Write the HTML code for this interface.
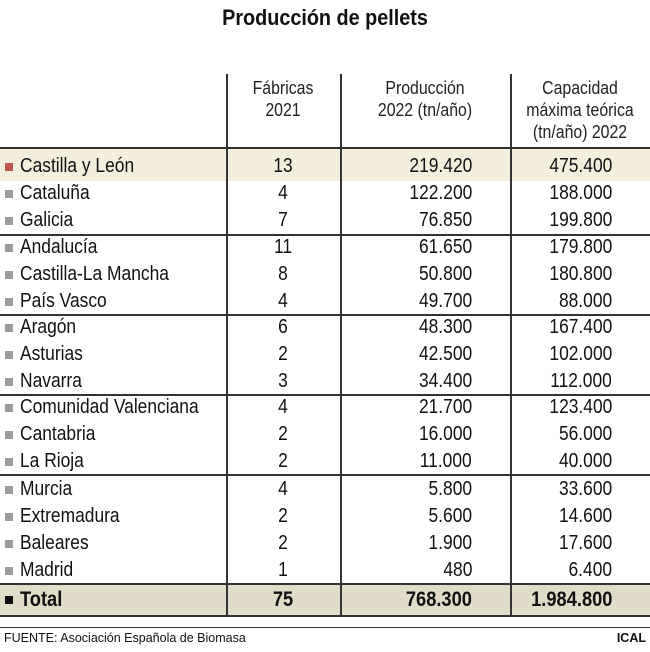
<!DOCTYPE html>
<html><head><meta charset="utf-8"><style>
body{margin:0;width:650px;height:652px;background:#fff;position:relative;overflow:hidden;font-family:"Liberation Sans Narrow","Liberation Sans",sans-serif;color:#111}
.a{position:absolute}
.t{left:0;width:650px;top:5px;text-align:center;font-weight:bold;font-size:22px;transform:scaleX(0.9)}
.h{font-size:18px;line-height:22px;text-align:center;color:#222}
.h div{transform:scaleX(0.88)}
.hl{height:1.5px;background:#333;left:0;width:650px}
.vl{width:1.5px;background:#333;top:74px;height:542px}
.r{left:0;width:650px;height:27px;font-size:20px;line-height:27px}
.r span{position:absolute}
.n{left:20px;transform:scaleX(0.87);transform-origin:left center}
.sq{left:5px;top:10px;width:8px;height:8px;background:#9a9a9f}
.f{left:226px;width:114px;text-align:center;transform:scaleX(0.87)}
.p{right:178px;text-align:right;transform:scaleX(0.87);transform-origin:right center}
.c{right:38px;text-align:right;transform:scaleX(0.87);transform-origin:right center}
</style></head><body>
<div class="a t">Producción de pellets</div>
<div class="a h" style="left:226px;width:114px;top:77px"><div>Fábricas</div><div>2021</div></div>
<div class="a h" style="left:340px;width:170px;top:77px"><div>Producción</div><div>2022 (tn/año)</div></div>
<div class="a h" style="left:510px;width:140px;top:77px"><div>Capacidad</div><div>máxima teórica</div><div>(tn/año) 2022</div></div>
<div class="a" style="left:0;top:149px;width:650px;height:32px;background:#f3efdc"></div>
<div class="a" style="left:0;top:584px;width:650px;height:32px;background:#e0dcc8"></div>
<div class="a hl" style="top:147px"></div>
<div class="a hl" style="top:234px"></div>
<div class="a hl" style="top:314px"></div>
<div class="a hl" style="top:394px"></div>
<div class="a hl" style="top:474px"></div>
<div class="a hl" style="top:583px"></div>
<div class="a hl" style="top:615px"></div>
<div class="a hl" style="top:627px;height:1px"></div>
<div class="a vl" style="left:226px"></div>
<div class="a vl" style="left:340px"></div>
<div class="a vl" style="left:510px"></div>

<div class="a r" style="top:153px"><span class="sq" style="background:#c0574a"></span><span class="n">Castilla y León</span><span class="f">13</span><span class="p">219.420</span><span class="c">475.400</span></div>
<div class="a r" style="top:180px"><span class="sq"></span><span class="n">Cataluña</span><span class="f">4</span><span class="p">122.200</span><span class="c">188.000</span></div>
<div class="a r" style="top:207px"><span class="sq"></span><span class="n">Galicia</span><span class="f">7</span><span class="p">76.850</span><span class="c">199.800</span></div>
<div class="a r" style="top:234px"><span class="sq"></span><span class="n">Andalucía</span><span class="f">11</span><span class="p">61.650</span><span class="c">179.800</span></div>
<div class="a r" style="top:261px"><span class="sq"></span><span class="n">Castilla-La Mancha</span><span class="f">8</span><span class="p">50.800</span><span class="c">180.800</span></div>
<div class="a r" style="top:288px"><span class="sq"></span><span class="n">País Vasco</span><span class="f">4</span><span class="p">49.700</span><span class="c">88.000</span></div>
<div class="a r" style="top:314px"><span class="sq"></span><span class="n">Aragón</span><span class="f">6</span><span class="p">48.300</span><span class="c">167.400</span></div>
<div class="a r" style="top:341px"><span class="sq"></span><span class="n">Asturias</span><span class="f">2</span><span class="p">42.500</span><span class="c">102.000</span></div>
<div class="a r" style="top:368px"><span class="sq"></span><span class="n">Navarra</span><span class="f">3</span><span class="p">34.400</span><span class="c">112.000</span></div>
<div class="a r" style="top:394px"><span class="sq"></span><span class="n">Comunidad Valenciana</span><span class="f">4</span><span class="p">21.700</span><span class="c">123.400</span></div>
<div class="a r" style="top:421px"><span class="sq"></span><span class="n">Cantabria</span><span class="f">2</span><span class="p">16.000</span><span class="c">56.000</span></div>
<div class="a r" style="top:448px"><span class="sq"></span><span class="n">La Rioja</span><span class="f">2</span><span class="p">11.000</span><span class="c">40.000</span></div>
<div class="a r" style="top:476px"><span class="sq"></span><span class="n">Murcia</span><span class="f">4</span><span class="p">5.800</span><span class="c">33.600</span></div>
<div class="a r" style="top:503px"><span class="sq"></span><span class="n">Extremadura</span><span class="f">2</span><span class="p">5.600</span><span class="c">14.600</span></div>
<div class="a r" style="top:530px"><span class="sq"></span><span class="n">Baleares</span><span class="f">2</span><span class="p">1.900</span><span class="c">17.600</span></div>
<div class="a r" style="top:557px"><span class="sq"></span><span class="n">Madrid</span><span class="f">1</span><span class="p">480</span><span class="c">6.400</span></div>
<div class="a r" style="top:586px;font-weight:bold;font-size:21px"><span class="sq" style="background:#111"></span><span class="n">Total</span><span class="f">75</span><span class="p">768.300</span><span class="c">1.984.800</span></div>

<div class="a" style="left:4px;top:631px;font-size:12.5px">FUENTE: Asociación Española de Biomasa</div>
<div class="a" style="right:4px;top:631px;font-size:12.5px;font-weight:bold">ICAL</div>
</body></html>
